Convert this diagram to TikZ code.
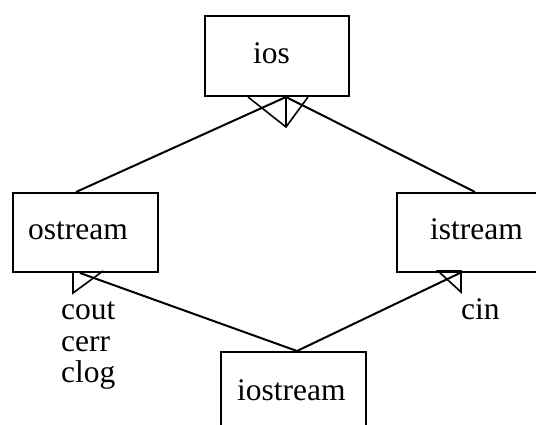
\documentclass[tikz,border=0pt]{standalone}
\usepackage{fontspec}
\setmainfont{Liberation Serif}
\usetikzlibrary{calc}
\begin{document}
\begin{tikzpicture}[x=1pt,y=-1pt,
  box/.style={draw,line width=2pt,rectangle,minimum width=#1,inner sep=0pt,anchor=north west},
  lbl/.style={anchor=base west,inner sep=0pt,font=\fontsize{31.5}{32}\selectfont},
  conn/.style={line width=2pt},
  tri/.style={line width=1.6pt,line join=miter}]
\useasboundingbox (0,0) rectangle (536,425);
\clip (0,0) rectangle (536,425);
% boxes
\node[box=144pt,minimum height=80pt] (ios) at (204,15) {};
\node[box=145pt,minimum height=79pt] (ostream) at (12,192) {};
\node[box=160pt,minimum height=79pt] (istream) at (396,192) {};
\node[box=145pt,minimum height=100pt] (iostream) at (220,351) {};
% texts
\node[lbl] (iosT) at (253,64) {ios};
\node[lbl] (ostreamT) at (28,240) {ostream};
\node[lbl] (istreamT) at (430,240) {istream};
\node[lbl] (iostreamT) at (237,400) {iostream};
\node[lbl] (cout) at (61,319) {cout};
\node[lbl] (cerr) at (61,351) {cerr};
\node[lbl] (clog) at (61,382) {clog};
\node[lbl] (cin) at (461,319) {cin};
% anchor points
\coordinate (iosB) at ($(ios.south west)+(82,0)$);
\coordinate (oT) at ($(ostream.north west)+(64,0)$);
\coordinate (oB) at ($(ostream.south west)+(68,0)$);
\coordinate (iT) at ($(istream.north west)+(79,0)$);
\coordinate (iB) at ($(istream.south west)+(64,0)$);
\coordinate (ioT) at ($(iostream.north west)+(77,0)$);
% connectors
\draw[conn] (oT) -- (iosB);
\draw[conn] (iT) -- (iosB);
\draw[conn] (ioT) -- (oB);
\draw[conn] (ioT) -- (iB);
% inheritance triangles
\draw[tri] ($(iosB)+(-38,0)$) -- ($(iosB)+(0,30)$) -- ($(iosB)+(22,0)$);
\draw[tri] (iosB) -- ($(iosB)+(0,30)$);
\draw[tri] ($(oB)+(-7,-1)$) -- ($(oB)+(-7,20)$) -- ($(oB)+(23,-2)$);
\draw[tri] ($(iB)+(-22,-2)$) -- ($(iB)+(1,-2)$) -- ($(iB)+(1,19)$) -- cycle;
\end{tikzpicture}
\end{document}
